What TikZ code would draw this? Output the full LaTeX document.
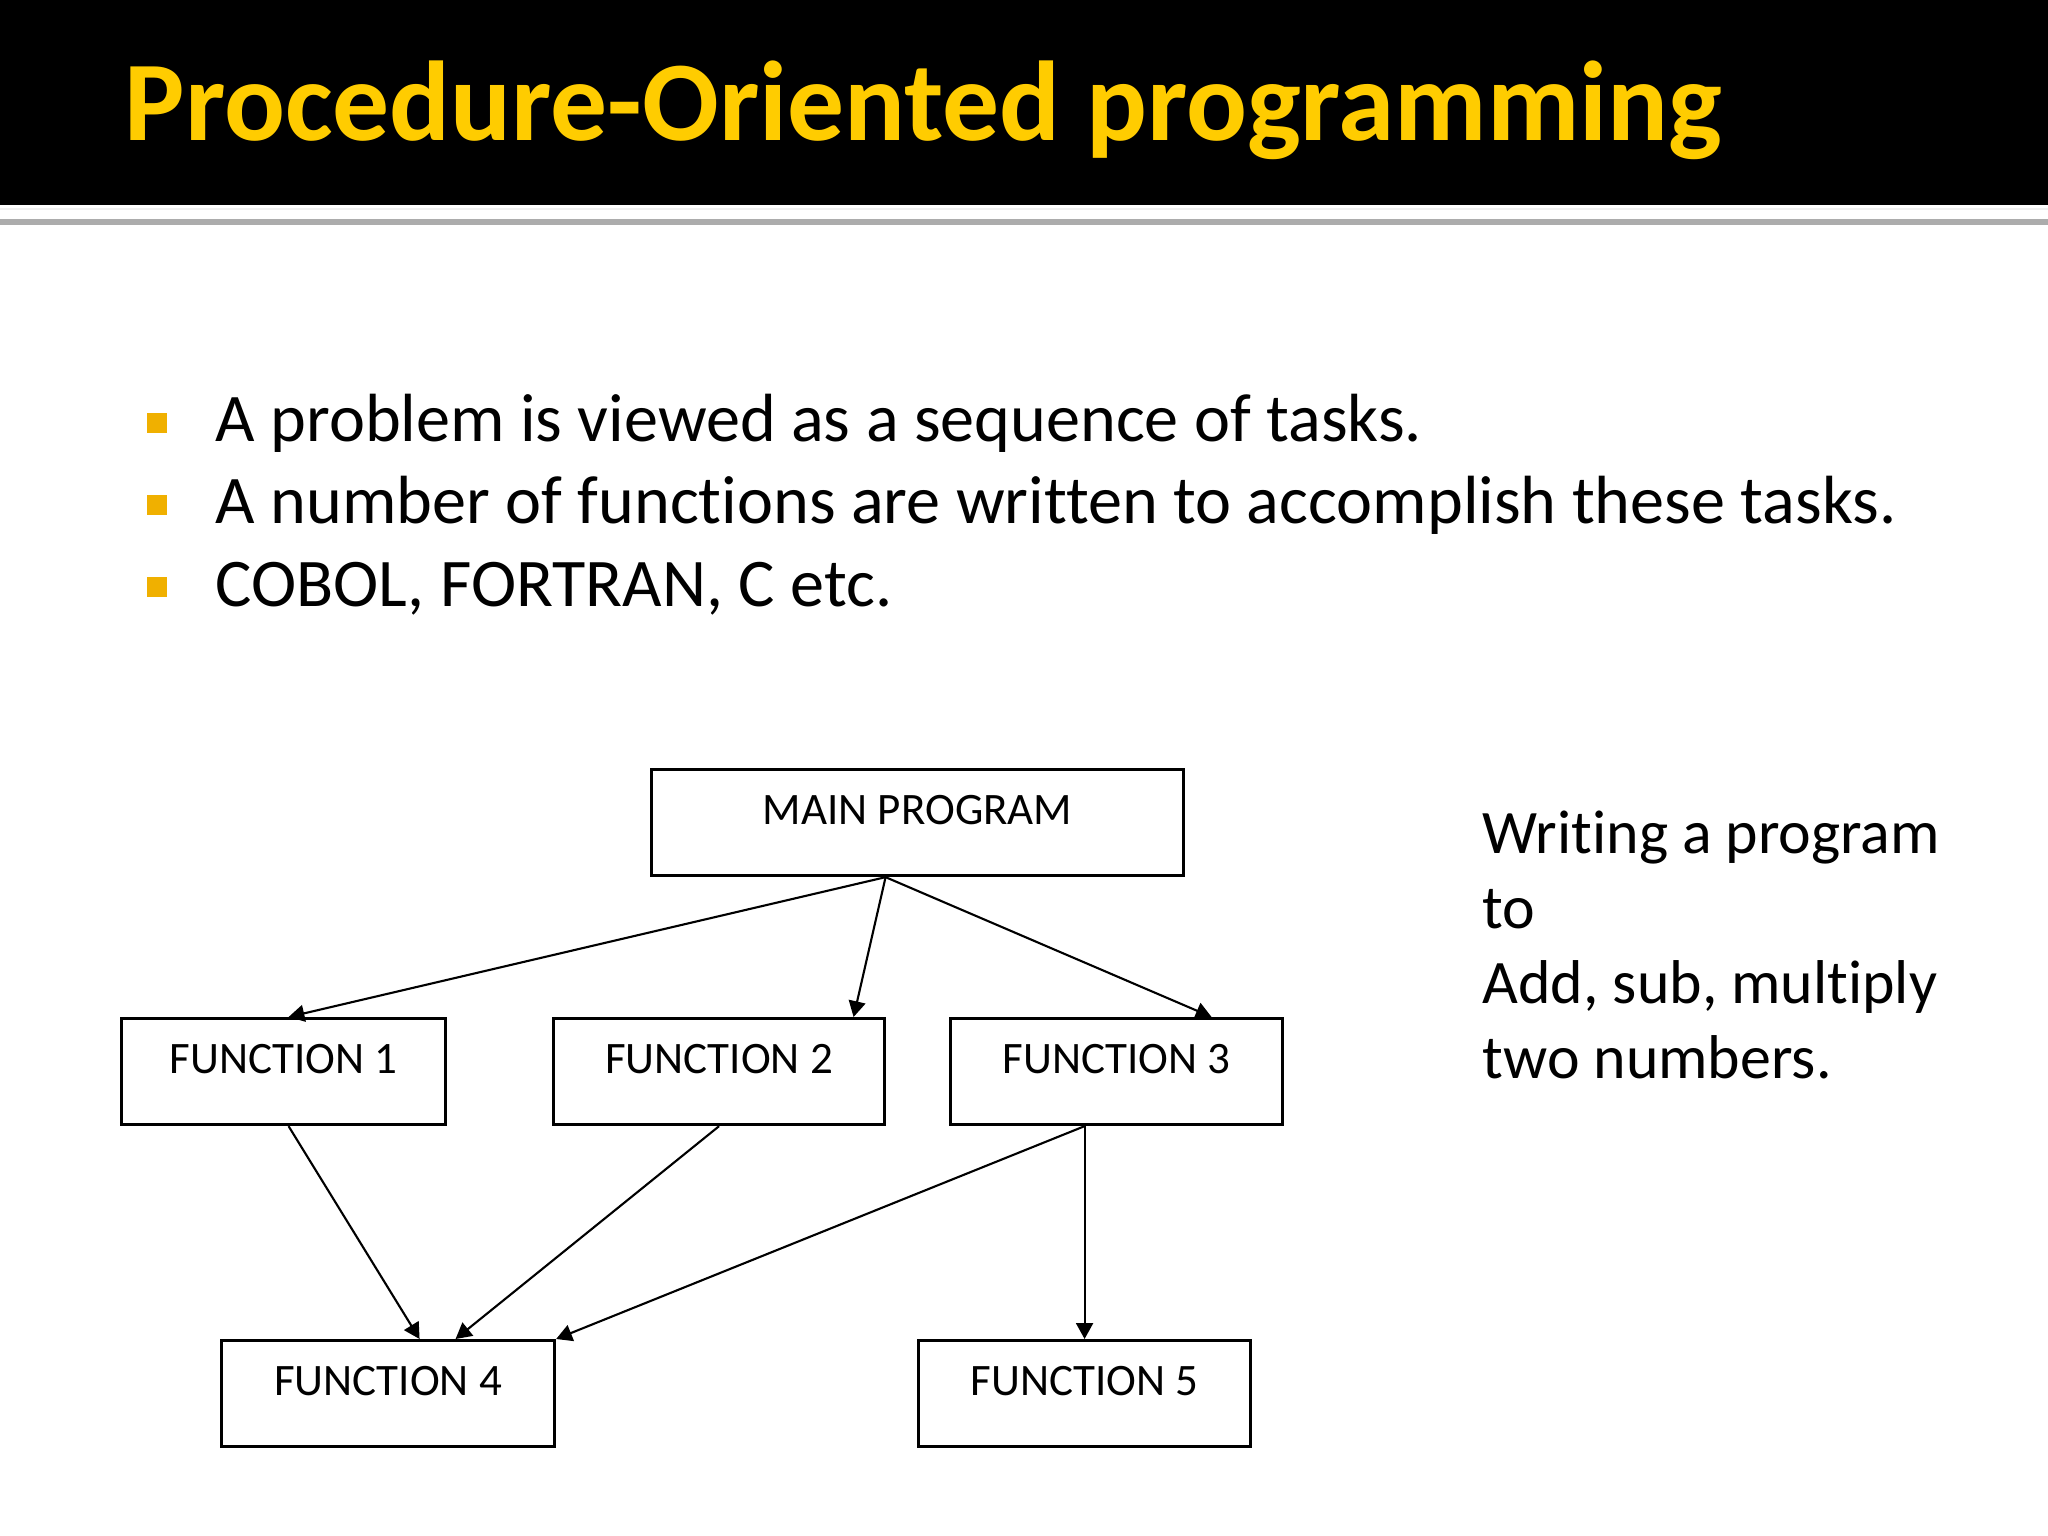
\documentclass[tikz,border=0pt]{standalone}
\usepackage{fontspec}
\setmainfont{Carlito}[Ligatures=NoCommon]
\usetikzlibrary{positioning, calc, arrows.meta}

\definecolor{titlegold}{RGB}{255,204,0}
\definecolor{bulletgold}{RGB}{240,176,0}

\tikzset{
  funcbox/.style={draw, line width=0.9pt, anchor=north west, inner xsep=0pt, inner ysep=0pt,
    text height=0.55cm, text depth=0.51cm, font=\fontsize{12.8}{13}\selectfont},
  arr/.style={-{Triangle[length=4.5pt,width=4.8pt]}, line width=0.6pt},
  bulletsq/.style={fill=bulletgold, minimum size=0.2cm, inner sep=0pt},
  bullettext/.style={anchor=base west, inner sep=0pt, font=\fontsize{19.4}{23}\selectfont}
}

\begin{document}
\begin{tikzpicture}
    \useasboundingbox (0,0) rectangle (20.48,-15.36);

    % Title bar
    \fill[black] (0,0) rectangle (20.48,-2.05);
    \fill[gray!12] (0,-2.08) rectangle (20.48,-2.10);
    \fill[gray!65] (0,-2.19) rectangle (20.48,-2.25);
    \node[anchor=base west, inner sep=0pt, text=titlegold,
      font=\fontsize{32.3}{32}\selectfont\bfseries] (title) at (1.24,-1.41) {Procedure-Oriented programming};

    % Bullet points
    \foreach \y/\txt [count=\i] in {4.42/{A problem is viewed as a sequence of tasks.},
        5.24/{A number of functions are written to accomplish these tasks.},
        6.06/{COBOL, FORTRAN, C etc.}} {
      \node[bulletsq] (sq\i) at (1.565,{-\y+0.19}) {};
      \node[bullettext] (bul\i) at (2.15,-\y) {\txt};
    }

    % Program boxes
    \node[funcbox, minimum width=5.32cm] (main) at (6.50,-7.68) {MAIN PROGRAM};
    \node[funcbox, minimum width=3.24cm] (f1) at (1.20,-10.17) {FUNCTION 1};
    \node[funcbox, minimum width=3.31cm] (f2) at (5.52,-10.17) {FUNCTION 2};
    \node[funcbox, minimum width=3.32cm] (f3) at (9.49,-10.17) {FUNCTION 3};
    \node[funcbox, minimum width=3.33cm] (f4) at (2.20,-13.39) {FUNCTION 4};
    \node[funcbox, minimum width=3.32cm] (f5) at (9.17,-13.39) {FUNCTION 5};

    % Calls
    \draw[arr] ($(main.south)+(-0.32,0)$) -- ($(f1.north)+(0.05,0)$);
    \draw[arr] ($(main.south)+(-0.32,0)$) -- ($(f2.north)+(1.345,0)$);
    \draw[arr] ($(main.south)+(-0.32,0)$) -- ($(f3.north)+(0.95,0)$);
    \draw[arr] ($(f1.south)+(0.05,0)$) -- ($(f4.north)+(0.315,0)$);
    \draw[arr] (f2.south) -- ($(f4.north)+(0.675,0)$);
    \draw[arr] (f5.north |- f3.south) -- (f4.north east);
    \draw[arr] (f5.north |- f3.south) -- (f5.north);

    % Side note
    \node[anchor=base west, inner sep=0pt, align=left,
      font=\fontsize{17.6}{21.3}\selectfont] (note) at (14.82,-10.78)
      {Writing a program\\ to\\ Add, sub, multiply\\ two numbers.};
\end{tikzpicture}
\end{document}
